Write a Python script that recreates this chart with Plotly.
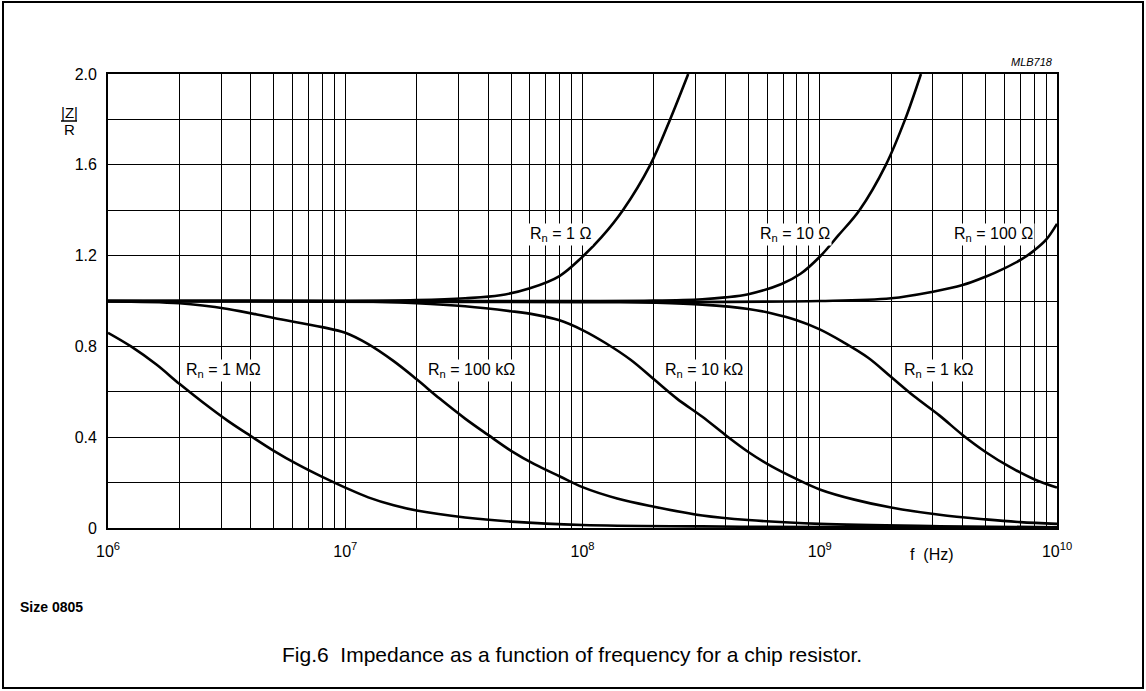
import math
import plotly.graph_objects as go

# Normalised impedance |Z|/R of a size-0805 chip resistor versus frequency
freq_1M = [1e6, 1.25e6, 1.6e6, 2e6, 2.5e6, 3.2e6, 4e6, 5e6, 6.3e6, 8e6, 1e7, 1.25e7, 1.6e7, 2e7, 3.2e7, 5e7, 1e8, 3.2e8, 1e9, 1e10]
z_1M = [0.86, 0.80, 0.72, 0.635, 0.555, 0.472, 0.405, 0.34, 0.28, 0.225, 0.178, 0.135, 0.10, 0.077, 0.046, 0.028, 0.013, 0.007, 0.004, 0.0]

freq_100k = [1e6, 2e6, 3.2e6, 5e6, 8e6, 1e7, 1.25e7, 1.6e7, 2e7, 2.5e7, 3.2e7, 4e7, 5e7, 6.3e7, 8e7, 1e8, 1.4e8, 2e8, 3.2e8, 5e8, 1e9, 3.2e9, 1e10]
z_100k = [0.998, 0.99, 0.965, 0.925, 0.885, 0.86, 0.81, 0.735, 0.655, 0.57, 0.482, 0.41, 0.34, 0.28, 0.228, 0.18, 0.13, 0.094, 0.055, 0.035, 0.018, 0.008, 0.003]

freq_10k = [1e6, 1e7, 2e7, 3.2e7, 5e7, 6.3e7, 8e7, 1e8, 1.25e8, 1.6e8, 2e8, 2.5e8, 3.2e8, 4e8, 5e8, 6.3e8, 8e8, 1e9, 1.4e9, 2e9, 3.2e9, 5e9, 7e9, 1e10]
z_10k = [1.0, 0.999, 0.99, 0.977, 0.955, 0.94, 0.915, 0.872, 0.815, 0.74, 0.655, 0.57, 0.49, 0.41, 0.335, 0.27, 0.215, 0.17, 0.125, 0.09, 0.058, 0.038, 0.026, 0.018]

freq_1k = [1e6, 1e8, 2e8, 3.2e8, 5e8, 6.3e8, 8e8, 1e9, 1.25e9, 1.6e9, 2e9, 2.5e9, 3.2e9, 4e9, 5e9, 6.3e9, 8e9, 1e10]
z_1k = [1.0, 0.999, 0.993, 0.984, 0.965, 0.945, 0.915, 0.875, 0.82, 0.75, 0.665, 0.58, 0.495, 0.41, 0.335, 0.27, 0.215, 0.178]

freq_1 = [1e6, 1e7, 2e7, 3.2e7, 4.5e7, 6e7, 8e7, 1e8, 1.2e8, 1.48e8, 1.93e8, 2.34e8, 2.79e8]
z_1 = [1.0, 1.0, 1.004, 1.012, 1.025, 1.056, 1.11, 1.195, 1.28, 1.40, 1.6, 1.8, 2.0]

freq_10 = [1e6, 1e8, 2e8, 3.2e8, 4e8, 5e8, 6.9e8, 8.3e8, 1e9, 1.2e9, 1.47e9, 1.9e9, 2.29e9, 2.67e9]
z_10 = [1.0, 1.0, 1.002, 1.008, 1.016, 1.03, 1.075, 1.12, 1.195, 1.29, 1.40, 1.60, 1.80, 2.0]

freq_100 = [1e6, 1e9, 2e9, 3e9, 4e9, 5e9, 6e9, 7.1e9, 8e9, 9e9, 1e10]
z_100 = [1.0, 1.0, 1.012, 1.041, 1.07, 1.107, 1.144, 1.184, 1.222, 1.27, 1.34]

series = [
    (freq_1M, z_1M), (freq_100k, z_100k), (freq_10k, z_10k), (freq_1k, z_1k),
    (freq_1, z_1), (freq_10, z_10), (freq_100, z_100),
]

# Curve labels: (text, frequency, |Z|/R)
curve_labels = [
    ("R<sub>n</sub> = 1 Ω", 8.05e7, 1.295),
    ("R<sub>n</sub> = 10 Ω", 7.85e8, 1.295),
    ("R<sub>n</sub> = 100 Ω", 5.4e9, 1.295),
    ("R<sub>n</sub> = 1 MΩ", 3.07e6, 0.695),
    ("R<sub>n</sub> = 100 kΩ", 3.4e7, 0.695),
    ("R<sub>n</sub> = 10 kΩ", 3.25e8, 0.695),
    ("R<sub>n</sub> = 1 kΩ", 3.18e9, 0.695),
]

x_decades = [1e6, 1e7, 1e8, 1e9, 1e10]
x_ticktext = ["10<sup>6</sup>", "10<sup>7</sup>", "10<sup>8</sup>", "10<sup>9</sup>", "10<sup>10</sup>"]
x_minor = [m * 10 ** e for e in range(6, 10) for m in range(2, 10)]
y_ticks = [0, 0.4, 0.8, 1.2, 1.6, 2.0]
y_ticktext = ["0", "0.4", "0.8", "1.2", "1.6", "2.0"]

W, H = 1146, 691
L, R, T, B = 108, 89, 74, 163
PW, PH = W - L - R, H - T - B
FONT = "Liberation Sans, Arial, Helvetica, sans-serif"


def px(x):
    return (x - L) / PW


def py(y):
    return (H - B - y) / PH


fig = go.Figure()
for f, z in series:
    fig.add_trace(go.Scatter(
        x=f, y=z, mode="lines",
        line=dict(color="black", width=2.6, shape="spline", smoothing=1.0),
        hoverinfo="skip", showlegend=False,
    ))

for text, f, z in curve_labels:
    fig.add_annotation(
        x=math.log10(f), y=z, xref="x", yref="y", text=text, showarrow=False,
        font=dict(family=FONT, size=16, color="black"),
        bgcolor="white", borderpad=1, xanchor="center", yanchor="middle",
    )

fig.update_xaxes(
    type="log", range=[6, 10], tickvals=x_decades, ticktext=x_ticktext,
    ticks="", ticklabelstandoff=8, zeroline=False,
    showline=True, linecolor="black", linewidth=1.8, mirror=True,
    tickfont=dict(family=FONT, size=16, color="black"),
    showgrid=True, gridcolor="black", gridwidth=1.3,
    minor=dict(tickvals=x_minor, showgrid=True, gridcolor="black", gridwidth=1.3, ticks=""),
)
fig.update_yaxes(
    range=[0, 2.0], tickvals=y_ticks, ticktext=y_ticktext,
    ticks="", ticklabelstandoff=6, zeroline=False,
    showline=True, linecolor="black", linewidth=1.8, mirror=True,
    tickfont=dict(family=FONT, size=16, color="black"),
    showgrid=True, gridcolor="black", gridwidth=1.3,
    minor=dict(dtick=0.2, showgrid=True, gridcolor="black", gridwidth=1.3, ticks=""),
)

# Axis captions and figure texts
texts = [
    ("|Z|", 69, 112, 15, "center", False, False),
    ("R", 69, 130, 15, "center", False, False),
    ("f  (Hz)", 932, 554, 16, "center", False, False),
    ("MLB718", 1055, 62, 11, "right", False, True),
    ("Size 0805", 18, 607, 14, "left", True, False),
    ("Fig.6  Impedance as a function of frequency for a chip resistor.", 572, 654, 21, "center", False, False),
]
for t, x, y, size, anchor, bold, italic in texts:
    label = t
    if bold:
        label = "<b>" + label + "</b>"
    if italic:
        label = "<i>" + label + "</i>"
    fig.add_annotation(
        x=px(x), y=py(y), xref="paper", yref="paper", text=label, showarrow=False,
        xanchor=anchor, yanchor="middle",
        font=dict(family=FONT, size=size, color="black"),
    )

# Fraction bar of |Z|/R and the page frame
fig.add_shape(type="line", xref="paper", yref="paper",
              x0=px(61), x1=px(77), y0=py(121), y1=py(121),
              line=dict(color="black", width=1.5))
fig.add_shape(type="rect", xref="paper", yref="paper",
              x0=px(3), x1=px(1143), y0=py(2), y1=py(688),
              line=dict(color="black", width=2))

fig.update_layout(
    width=W, height=H, margin=dict(l=L, r=R, t=T, b=B),
    paper_bgcolor="white", plot_bgcolor="white", showlegend=False,
)

fig.write_html("out.html")
